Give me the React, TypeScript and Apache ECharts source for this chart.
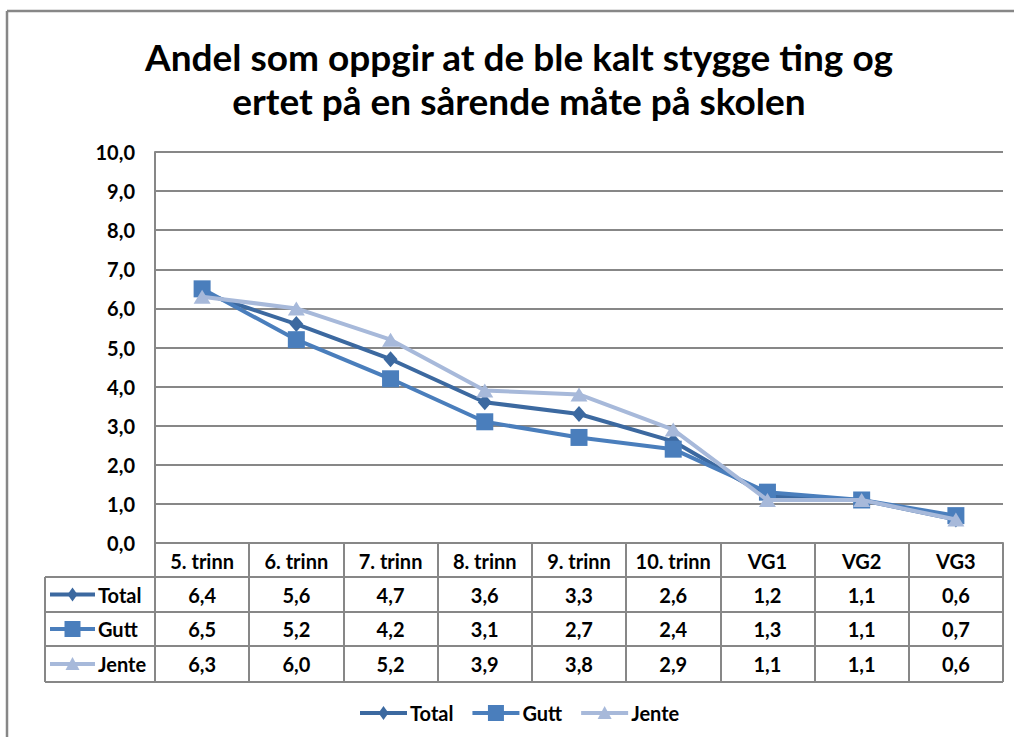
import React, { useEffect, useRef } from "react";
import * as echarts from "echarts";

const titleLines = [
  "Andel som oppgir at de ble kalt stygge ting og",
  "ertet på en sårende måte på skolen",
];
const categories = ["5. trinn", "6. trinn", "7. trinn", "8. trinn", "9. trinn", "10. trinn", "VG1", "VG2", "VG3"];
const seriesNames = ["Total", "Gutt", "Jente"];
const totalValues = [6.4, 5.6, 4.7, 3.6, 3.3, 2.6, 1.2, 1.1, 0.6];
const guttValues = [6.5, 5.2, 4.2, 3.1, 2.7, 2.4, 1.3, 1.1, 0.7];
const jenteValues = [6.3, 6.0, 5.2, 3.9, 3.8, 2.9, 1.1, 1.1, 0.6];
const yMin = 0;
const yMax = 10;
const yInterval = 1;

const colors = ["#3C69A0", "#4A7EBC", "#A7B9DA"];
const symbols = ["diamond", "rect", "triangle"];
const symbolSizes: any[] = [[14, 16], 17, [17, 14]];
const FONT = "Lato, 'Open Sans', sans-serif";
const GRID_COLOR = "#878787";

const fmt = (v: number) => v.toFixed(1).replace(".", ",");

function keyIcon(r: number, x1: number, x2: number, yc: number, c: string): any[] {
  const cx = (x1 + x2) / 2;
  const els: any[] = [{ type: "line", shape: { x1, y1: yc, x2, y2: yc }, style: { stroke: c, lineWidth: 4 } }];
  if (r === 0) {
    els.push({ type: "polygon", shape: { points: [[cx, yc - 7], [cx + 5, yc], [cx, yc + 7], [cx - 5, yc]] }, style: { fill: c } });
  } else if (r === 1) {
    els.push({ type: "rect", shape: { x: cx - 8, y: yc - 8, width: 16, height: 16 }, style: { fill: c } });
  } else {
    els.push({ type: "polygon", shape: { points: [[cx, yc - 7], [cx + 7, yc + 6], [cx - 7, yc + 6]] }, style: { fill: c } });
  }
  return els;
}

export default function App() {
  const ref = useRef<HTMLDivElement>(null);
  useEffect(() => {
    document.body.style.margin = "0";
    const chart = echarts.init(ref.current!, null, { renderer: "svg" });
    const allValues = [totalValues, guttValues, jenteValues];
    const gridLeft = 155;
    const gridRight = 1003;
    const gridTop = 152;
    const gridBottom = 543;
    const rowLines = [577, 612, 646, 682];
    const tableLeft = 45;

    chart.setOption({
      animation: false,
      backgroundColor: "#ffffff",
      grid: { left: gridLeft, right: 1014 - gridRight, top: gridTop, bottom: 737 - gridBottom, containLabel: false },
      legend: { show: false, data: seriesNames },
      xAxis: {
        type: "category",
        data: categories,
        boundaryGap: true,
        axisLine: { show: true, lineStyle: { color: GRID_COLOR, width: 2 } },
        axisTick: { show: true, interval: 0, length: rowLines[3] - gridBottom, lineStyle: { color: GRID_COLOR, width: 2 } },
        axisLabel: { interval: 0, margin: 8, fontFamily: FONT, fontWeight: "bold", fontSize: 20, color: "#000" },
      },
      yAxis: {
        type: "value",
        min: yMin,
        max: yMax,
        interval: yInterval,
        axisLine: { show: true, lineStyle: { color: GRID_COLOR, width: 2 } },
        axisTick: { show: false },
        splitLine: { show: true, lineStyle: { color: GRID_COLOR, width: 2 } },
        axisLabel: { margin: 20, formatter: (v: number) => fmt(v), fontFamily: FONT, fontWeight: "bold", fontSize: 20, color: "#000" },
      },
      series: seriesNames.map((name, i) => ({
        name,
        type: "line",
        data: allValues[i],
        symbol: symbols[i],
        symbolSize: symbolSizes[i],
        showAllSymbol: true,
        lineStyle: { color: colors[i], width: 4 },
        itemStyle: { color: colors[i] },
        z: 2 + i,
      })),
    });

    const elements: any[] = [];
    elements.push({ type: "line", shape: { x1: 7, y1: 11, x2: 1014, y2: 11 }, style: { stroke: GRID_COLOR, lineWidth: 2.5 } });
    elements.push({ type: "line", shape: { x1: 7, y1: 11, x2: 7, y2: 737 }, style: { stroke: GRID_COLOR, lineWidth: 2.5 } });
    titleLines.forEach((t, i) => {
      elements.push({
        type: "text",
        x: 519,
        y: 56 + i * 44,
        style: { text: t, fontFamily: FONT, fontWeight: "bold", fontSize: 37, fill: "#000", textAlign: "center", textVerticalAlign: "middle" },
      });
    });
    rowLines.forEach((y) => {
      elements.push({ type: "line", shape: { x1: tableLeft, y1: y, x2: gridRight, y2: y }, style: { stroke: GRID_COLOR, lineWidth: 2 } });
    });
    elements.push({ type: "line", shape: { x1: tableLeft, y1: rowLines[0], x2: tableLeft, y2: rowLines[3] }, style: { stroke: GRID_COLOR, lineWidth: 2 } });
    seriesNames.forEach((name, r) => {
      const yc = (rowLines[r] + rowLines[r + 1]) / 2;
      const c = colors[r];
      elements.push(...keyIcon(r, 50, 95, yc, c));
      elements.push({
        type: "text",
        x: 98,
        y: yc,
        style: { text: name, fontFamily: FONT, fontWeight: "bold", fontSize: 20, fill: "#000", textAlign: "left", textVerticalAlign: "middle" },
      });
      allValues[r].forEach((v, i) => {
        const px = chart.convertToPixel({ xAxisIndex: 0 }, i) as number;
        elements.push({
          type: "text",
          x: px,
          y: yc,
          style: { text: fmt(v), fontFamily: FONT, fontWeight: "bold", fontSize: 20, fill: "#000", textAlign: "center", textVerticalAlign: "middle" },
        });
      });
    });
    // legend (bottom)
    const cnv = document.createElement("canvas").getContext("2d")!;
    cnv.font = "bold 20px Lato";
    let lx = 360;
    const ly = 713;
    seriesNames.forEach((name, r) => {
      elements.push(...keyIcon(r, lx, lx + 47, ly, colors[r]));
      elements.push({
        type: "text",
        x: lx + 50,
        y: ly,
        style: { text: name, fontFamily: FONT, fontWeight: "bold", fontSize: 20, fill: "#000", textAlign: "left", textVerticalAlign: "middle" },
      });
      lx += 50 + cnv.measureText(name).width + 19;
    });
    chart.setOption({ graphic: { elements } });
    return () => chart.dispose();
  }, []);
  return <div ref={ref} style={{ position: "absolute", left: 0, top: 0, width: 1014, height: 737 }} />;
}
